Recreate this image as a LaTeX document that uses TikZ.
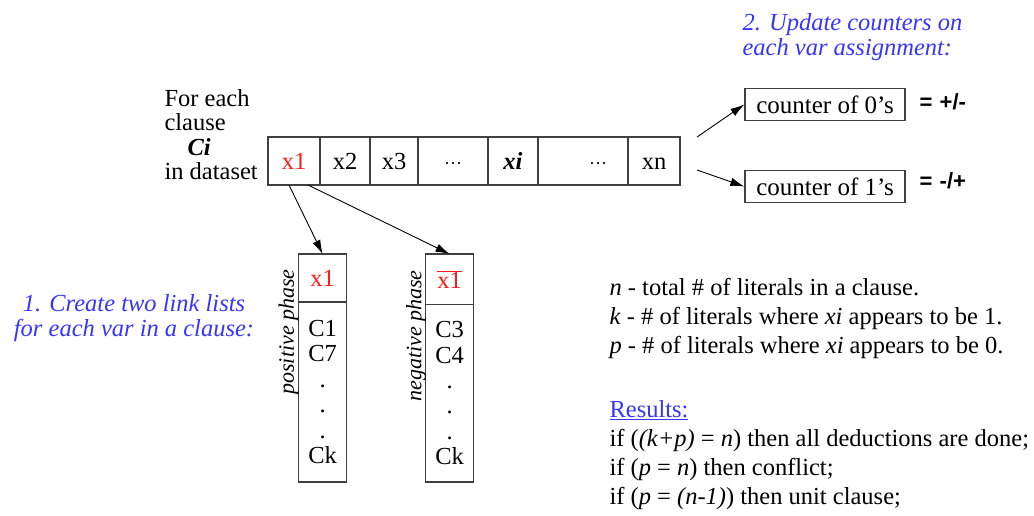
\documentclass[tikz,border=0pt]{standalone}
\usepackage{fontspec}
\setmainfont{Liberation Serif}
\newfontfamily\signfont{Liberation Sans}
\usetikzlibrary{arrows.meta,positioning}
\definecolor{VarRed}{HTML}{FF1A1A}
\definecolor{NoteBlue}{HTML}{3535FF}
\definecolor{BoxEdge}{HTML}{404040}
\newcommand{\skipdots}{{\fontsize{18}{20}\selectfont ···}}
\tikzset{
  arr/.style={-{Latex[length=14pt,width=8.5pt]},black,line width=0.9pt},
  cell/.style={draw=BoxEdge,line width=1.3pt,minimum height=48pt,inner sep=0pt,
               outer sep=0pt,text height=16pt,text depth=0pt,font=\fontsize{24.5}{26}\selectfont},
  counterbox/.style={draw=BoxEdge,line width=1.3pt,minimum width=160pt,minimum height=32pt,
                     inner sep=0pt,font=\fontsize{25}{26}\selectfont},
  listhead/.style={draw=BoxEdge,line width=1.3pt,minimum width=48pt,inner sep=0pt,
                   outer sep=0pt,text=VarRed,font=\fontsize{24.5}{26}\selectfont},
  listbody/.style={draw=BoxEdge,line width=1.3pt,minimum width=48pt,minimum height=180pt,
                   inner sep=0pt,outer sep=0pt,align=center,font=\fontsize{24.5}{25.4}\selectfont},
  phase/.style={rotate=90,font=\fontsize{22}{24}\selectfont\itshape},
  note/.style={text=NoteBlue,font=\fontsize{24.5}{25}\selectfont\itshape},
  plain/.style={font=\fontsize{24.5}{29}\selectfont,align=left},
  sign/.style={font=\fontsize{22}{24}\selectfont\signfont\bfseries},
}

\begin{document}
\begin{tikzpicture}[x=1pt,y=-1pt]
  \useasboundingbox (0,0) rectangle (1034,515);

  % clause array
  \node[plain,align=left,font=\fontsize{24.5}{24.3}\selectfont,anchor=west] (intro) at (161,134.5)
    {For each\\clause\\\hspace*{23pt}\textbf{\textit{Ci}}\\in dataset};
  \node[cell,minimum width=52pt,text=VarRed] (c1) at (294,161) {x1};
  \node[cell,minimum width=50pt] (c2) at (345,161) {x2};
  \node[cell,minimum width=48pt] (c3) at (394,161) {x3};
  \node[cell,minimum width=70pt] (c4) at (453,161) {\skipdots};
  \node[cell,minimum width=50pt] (c5) at (513,161) {\textbf{\textit{xi}}};
  \node[cell,minimum width=90pt] (c6) at (583,161) {\hspace*{30pt}\skipdots};
  \node[cell,minimum width=52pt] (c7) at (654,161) {xn};

  % counters
  \node[note,align=left,anchor=west] (step2) at (739,37.5)
    {2. Update counters on\\each var assignment:};
  \node[counterbox] (zeros) at (825,104.5) {counter of 0’s};
  \node[counterbox] (ones) at (825,186.5) {counter of 1’s};
  \node[sign,anchor=west] (zsign) at (916,102) {=\,\,+/-};
  \node[sign,anchor=west] (osign) at (916,181) {=\,\,-/+};
  \coordinate (up) at (697,137);
  \coordinate (dn) at (697,170);
  \draw[arr] (up) -- (zeros.west);
  \draw[arr] (dn) -- (ones.west);

  % link lists of x1
  \node[note,align=center] (step1) at (134,318)
    {1. Create two link lists\\for each var in a clause:};
  \node[listhead,minimum height=48pt] (phead) at (322.6,278) {x1};
  \node[listbody,below=0pt of phead] (pbody) {C1\\C7\\.\\.\\.\\Ck};
  \node[listhead,minimum height=50.5pt] (nhead) at (449.6,279.25) {$\overline{\mbox{x1}}$};
  \node[listbody,minimum height=177.5pt,below=0pt of nhead] (nbody) {C3\\C4\\.\\.\\.\\Ck};
  \node[phase] (plabel) at (288.6,332) {positive phase};
  \node[phase] (nlabel) at (416,336) {negative phase};
  \draw[arr] ([xshift=-5pt]c1.south) -- (phead.north);
  \draw[arr] ([xshift=14pt]c1.south) -- (nhead.north);

  % legend and results
  \node[plain,anchor=west] (defs) at (606,318)
    {\textit{n} - total \# of literals in a clause.\\
     \textit{k} - \# of literals where \textit{xi} appears to be 1.\\
     \textit{p} - \# of literals where \textit{xi} appears to be 0.};
  \node[plain,anchor=west] (results) at (606,455)
    {\textcolor{NoteBlue}{\underline{Results:}}\\
     if (\textit{(k+p)} = \textit{n}) then all deductions are done;\\
     if (\textit{p} = \textit{n}) then conflict;\\
     if (\textit{p} = \textit{(n-1)}) then unit clause;};
\end{tikzpicture}
\end{document}
